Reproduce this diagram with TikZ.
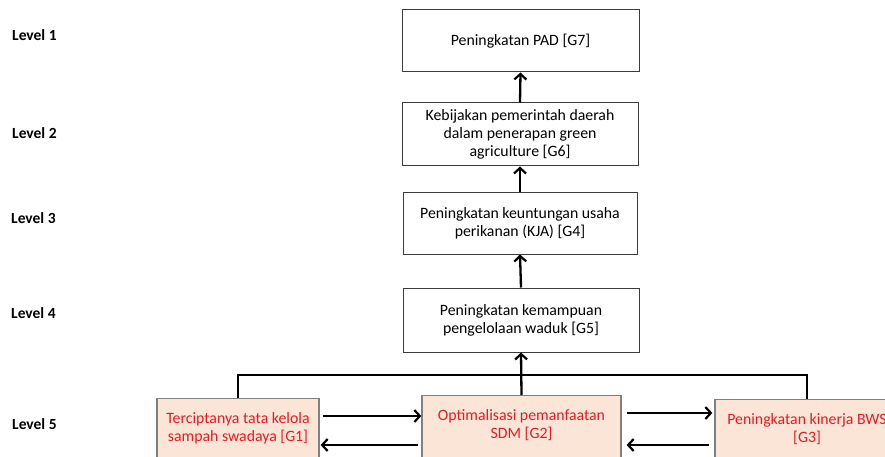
\documentclass[tikz,border=0pt]{standalone}
\usepackage{fontspec}
\setmainfont{Carlito}
\usetikzlibrary{arrows.meta}
\definecolor{redtxt}{RGB}{226,28,36}
\definecolor{peach}{RGB}{251,229,214}
\definecolor{peachline}{RGB}{128,128,128}
\definecolor{boxline}{RGB}{60,60,60}
\begin{document}
\begin{tikzpicture}[x=1pt,y=-1pt,
  font=\fontsize{15.8}{18}\selectfont,
  topbox/.style={draw=boxline, line width=1pt, fill=white, align=center, inner sep=0pt},
  lowbox/.style={draw=peachline, line width=1.3pt, fill=peach, align=center, inner sep=0pt, text=redtxt, anchor=north},
  lvl/.style={anchor=west, font=\fontsize{15.5}{17}\selectfont\bfseries, inner sep=0pt},
  arr/.style={line width=2.3pt, -{Straight Barb[length=5.5pt,width=12pt,line width=2.2pt]}},
  bus/.style={line width=2.3pt}]
\useasboundingbox (0,0) rectangle (885,457);
% level labels
\node[lvl] (l1) at (12,35) {Level 1};
\node[lvl] (l2) at (12,133) {Level 2};
\node[lvl] (l3) at (11,218) {Level 3};
\node[lvl] (l4) at (11,313) {Level 4};
\node[lvl] (l5) at (12,424) {Level 5};
% upper boxes
\node[topbox, minimum width=237pt, minimum height=62pt] (g7) at (520.5,41) {Peningkatan PAD [G7]};
\node[topbox, minimum width=236pt, minimum height=63pt] (g6) at (520,134.5) {Kebijakan pemerintah daerah\\dalam penerapan green\\agriculture [G6]};
\node[topbox, minimum width=234pt, minimum height=62pt] (g4) at (520,223) {Peningkatan keuntungan usaha\\perikanan (KJA) [G4]};
\node[topbox, minimum width=236pt, minimum height=64pt] (g5) at (521,320) {Peningkatan kemampuan\\pengelolaan waduk [G5]};
% level 5 boxes
\node[lowbox, minimum width=162pt, minimum height=62pt] (g1) at (238,398) {};
\node[text=redtxt, align=center] (t1) at (238,428) {Terciptanya tata kelola\\sampah swadaya [G1]};
\node[lowbox, minimum width=199pt, minimum height=66pt] (g2) at (521.5,395) {};
\node[text=redtxt, align=center] (t2) at (521.5,425.5) {Optimalisasi pemanfaatan\\SDM [G2]};
\node[lowbox, minimum width=184pt, minimum height=62pt] (g3) at (807,399) {};
\node[text=redtxt, align=center] (t3) at (807,429) {Peningkatan kinerja BWS\\{}[G3]};
% vertical arrows
\draw[arr] (g6.north) -- (g7.south);
\draw[arr] (g4.north) -- (g6.south);
\draw[arr] (g5.north) -- (g4.south);
\draw[arr] (g2.north) -- (g5.south);
% bus
\coordinate (busy) at (0,375);
\draw[bus] (g1.north) -- (g1.north |- busy) -- (g3.north |- busy) -- (g3.north);
% horizontal arrows
\coordinate (ra) at (0,416);
\coordinate (rb) at (0,445);
\coordinate (rc) at (0,413);
\draw[arr] ([xshift=3pt]g1.east |- ra) -- (g2.west |- ra);
\draw[arr] ([xshift=-3pt]g2.west |- rb) -- ([xshift=1pt]g1.east |- rb);
\draw[arr] ([xshift=5pt]g2.east |- rc) -- ([xshift=-2pt]g3.west |- rc);
\draw[arr] ([xshift=-5pt]g3.west |- rb) -- ([xshift=5pt]g2.east |- rb);
\end{tikzpicture}
\end{document}
